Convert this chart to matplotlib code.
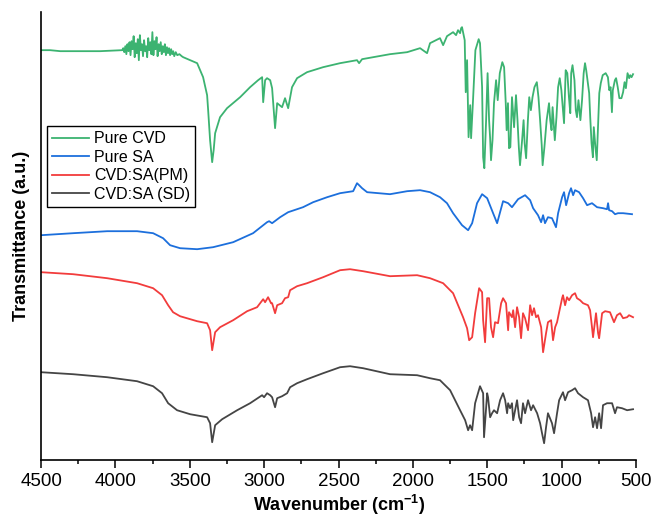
import matplotlib
matplotlib.use('Agg')
import matplotlib.pyplot as plt
from matplotlib.ticker import MultipleLocator

plt.rcParams['font.family'] = 'Liberation Sans'
plt.rcParams['mathtext.fontset'] = 'custom'
plt.rcParams['mathtext.rm'] = 'Liberation Sans'
plt.rcParams['mathtext.bf'] = 'Liberation Sans:bold'
plt.rcParams['mathtext.default'] = 'bf'

# ── Spectra (wavenumber in cm-1, stacked transmittance in a.u.) ─────
cvd_wn = [4500, 4440, 4372, 4238, 4103, 3969,
          3955, 3948, 3941, 3934, 3927, 3920, 3913, 3906, 3899, 3892, 3885, 3878,
          3871, 3864, 3857, 3850, 3843, 3836, 3829, 3822, 3815, 3808, 3801, 3794,
          3787, 3780, 3773, 3766, 3759, 3752, 3745, 3738, 3731, 3724, 3717, 3710,
          3703, 3696, 3689, 3682, 3675, 3668, 3661, 3654, 3647, 3640, 3633, 3626,
          3619, 3612, 3605, 3595, 3585, 3570, 3555, 3545,
          3498, 3451, 3411, 3384, 3377, 3364, 3350, 3340, 3330, 3297, 3250, 3162,
          3095, 3041, 3014, 3007, 2994, 2981, 2960, 2947, 2927, 2913, 2880, 2860,
          2839, 2813, 2779, 2712, 2604, 2490, 2376, 2362, 2342, 2268, 2154, 2039,
          1952, 1905, 1885, 1818, 1797, 1771, 1750, 1730, 1710, 1697, 1683, 1676,
          1670, 1652, 1645, 1636, 1626, 1615, 1609, 1597, 1580, 1558, 1549, 1535,
          1528, 1520, 1508, 1498, 1488, 1481, 1475, 1465, 1455, 1441, 1430, 1416,
          1399, 1387, 1376, 1370, 1361, 1354, 1345, 1334, 1320, 1307, 1297, 1288,
          1280, 1266, 1256, 1249, 1239, 1227, 1218, 1207, 1196, 1183, 1167, 1156,
          1145, 1134, 1128, 1116, 1101, 1085, 1077, 1068, 1061, 1046, 1035, 1024,
          1013, 1002, 991, 984, 973, 962, 951, 942, 936, 927, 914, 905, 897, 887,
          874, 863, 852, 843, 835, 826, 815, 808, 799, 790, 784, 773, 764, 755,
          747, 737, 724, 704, 689, 680, 671, 662, 656, 642, 634, 623, 612, 598,
          587, 577, 568, 557, 546, 539, 530, 520]
cvd_t = [410, 410, 409, 409, 409, 410,
         410, 412, 408, 414, 406, 416, 409, 418, 405, 419, 411, 424,
         403, 417, 407, 421, 400, 425, 410, 416, 404, 420, 409, 414,
         403, 422, 410, 418, 406, 428, 405, 419, 411, 423, 404, 416,
         409, 418, 406, 414, 408, 416, 405, 413, 407, 412, 405, 411,
         406, 409, 404, 408, 405, 406, 404, 403,
         400, 397, 383, 365, 350, 320, 298, 310, 327, 343, 352, 363,
         373, 380, 383, 358, 380, 382, 380, 372, 332, 357, 353, 362,
         352, 373, 382, 388, 393, 397, 400, 397, 401, 403, 406, 408,
         412, 407, 417, 422, 415, 424, 426, 428, 425, 430, 427, 432,
         433, 420, 368, 400, 323, 355, 322, 357, 410, 421, 417, 373,
         303, 292, 340, 387, 340, 322, 300, 320, 357, 380, 360, 387,
         398, 393, 357, 330, 357, 312, 313, 363, 333, 365, 340, 313,
         295, 320, 340, 317, 302, 340, 363, 350, 363, 373, 378, 363,
         340, 315, 295, 313, 340, 357, 340, 330, 353, 320, 343, 373,
         382, 370, 350, 337, 390, 387, 363, 347, 387, 395, 380, 350, 343, 360,
         340, 360, 387, 397, 390, 380, 367, 343, 317, 303, 333, 313, 300, 337,
         367, 377, 385, 387, 383, 370, 373, 348, 370, 380, 382, 373, 362, 362,
         368, 378, 372, 387, 382, 385, 383, 386]

sa_wn = [4500, 4285, 4056, 3855, 3747, 3680, 3633, 3566, 3451, 3344, 3209, 3075,
         2981, 2967, 2947, 2893, 2839, 2739, 2671, 2577, 2490, 2402, 2376, 2362,
         2342, 2308, 2154, 2039, 1952, 1885, 1818, 1771, 1730, 1670, 1629, 1602,
         1569, 1535, 1501, 1461, 1434, 1414, 1394, 1360, 1334, 1293, 1246, 1212,
         1192, 1159, 1138, 1125, 1112, 1092, 1065, 1038, 1024, 997, 984, 970, 950,
         937, 923, 910, 883, 856, 829, 796, 762, 722, 695, 688, 681, 661, 641,
         621, 587, 527]
sa_t = [225, 227, 229, 229, 227, 222, 215, 212, 211, 213, 218, 227,
        238, 239, 237, 243, 248, 253, 258, 263, 267, 269, 277, 275,
        272, 268, 266, 269, 270, 268, 263, 257, 247, 235, 230, 237,
        257, 266, 262, 247, 237, 248, 259, 257, 253, 261, 265, 260,
        252, 245, 238, 245, 237, 243, 242, 233, 247, 263, 268, 255, 267,
        272, 265, 270, 268, 262, 255, 257, 253, 252, 251, 257, 250, 249, 246,
        247, 247, 246]

pm_wn = [4500, 4285, 4056, 3855, 3747, 3687, 3646, 3613, 3566, 3451, 3384, 3364,
         3350, 3330, 3297, 3209, 3115, 3048, 3007, 2994, 2974, 2954, 2947, 2927,
         2913, 2880, 2860, 2839, 2826, 2779, 2712, 2604, 2490, 2423, 2335, 2154,
         1972, 1885, 1797, 1730, 1663, 1636, 1622, 1602, 1582, 1555, 1535, 1528,
         1515, 1501, 1488, 1475, 1461, 1448, 1428, 1407, 1394, 1374, 1360, 1354,
         1334, 1326, 1313, 1300, 1286, 1273, 1260, 1246, 1226, 1212, 1199, 1186,
         1172, 1159, 1138, 1125, 1105, 1092, 1071, 1058, 1044, 1031, 1017, 997,
         991, 977, 964, 950, 930, 910, 897, 876, 856, 823, 809, 796, 789, 769,
         755, 748, 728, 708, 675, 648, 628, 607, 587, 560, 547, 520]
pm_t = [188, 186, 182, 177, 172, 165, 155, 148, 144, 139, 137, 130,
        110, 128, 133, 140, 149, 153, 161, 158, 163, 157, 157, 147,
        155, 157, 162, 163, 170, 174, 177, 183, 190, 191, 189, 184,
        185, 182, 177, 167, 143, 132, 120, 123, 147, 172, 168, 140,
        118, 162, 162, 133, 123, 138, 137, 157, 162, 157, 130, 148,
        143, 150, 133, 153, 143, 122, 147, 142, 130, 155, 145, 152,
        143, 145, 133, 108, 127, 138, 140, 120, 133, 138, 148, 162,
        165, 155, 163, 160, 165, 167, 162, 160, 157, 155, 150, 133, 123, 147,
        127, 122, 147, 149, 148, 138, 145, 147, 142, 143, 145, 143]

sd_wn = [4500, 4285, 4056, 3855, 3747, 3687, 3646, 3586, 3498, 3384, 3364, 3350,
         3330, 3283, 3182, 3095, 3014, 3001, 2981, 2960, 2947, 2927, 2913, 2880,
         2846, 2826, 2779, 2712, 2604, 2490, 2423, 2335, 2154, 1972, 1885, 1818,
         1750, 1683, 1649, 1629, 1616, 1602, 1582, 1549, 1528, 1522, 1501, 1495,
         1481, 1468, 1455, 1434, 1414, 1394, 1380, 1367, 1360, 1347, 1334, 1326,
         1300, 1286, 1273, 1260, 1246, 1226, 1206, 1192, 1165, 1145, 1132, 1118,
         1105, 1092, 1065, 1051, 1031, 1017, 991, 977, 957, 930, 910, 890, 856,
         823, 802, 789, 775, 762, 748, 735, 722, 695, 661, 641, 628, 594, 560, 520]
sd_t = [88, 86, 83, 79, 74, 67, 57, 50, 46, 43, 37, 18,
        35, 41, 50, 57, 65, 63, 67, 65, 63, 53, 62, 64,
        67, 73, 77, 81, 87, 93, 94, 92, 86, 85, 82, 80,
        70, 50, 40, 30, 35, 30, 57, 74, 67, 23, 67, 63,
        43, 47, 50, 47, 60, 67, 60, 47, 57, 52, 57, 40,
        60, 43, 37, 57, 47, 60, 50, 55, 47, 37, 27, 17,
        33, 47, 37, 27, 47, 60, 68, 60, 68, 70, 72, 67, 63,
        60, 47, 33, 43, 32, 47, 32, 55, 57, 57, 47, 53, 52, 50, 51]

LABELS = ['Pure CVD', 'Pure SA', 'CVD:SA(PM)', 'CVD:SA (SD)']
COLORS = ['#3cb371', '#1c6fdc', '#f23c3c', '#454545']

fig = plt.figure(figsize=(6.53, 5.29), dpi=100)
ax = fig.add_axes([0.063, 0.130, 0.911, 0.847])

for wn, t, lab, c in zip([cvd_wn, sa_wn, pm_wn, sd_wn],
                         [cvd_t, sa_t, pm_t, sd_t], LABELS, COLORS):
    ax.plot(wn, t, color=c, lw=1.3, label=lab)

ax.set_xlim(4500, 500)
ax.set_ylim(0, 448)
ax.xaxis.set_major_locator(MultipleLocator(500))
ax.xaxis.set_minor_locator(MultipleLocator(250))
ax.tick_params(axis='x', which='major', direction='out', length=5.5, width=1.1,
               labelsize=13.5, pad=4)
ax.tick_params(axis='x', which='minor', direction='out', length=3, width=1.1)
ax.set_yticks([])
for side in ('top', 'right'):
    ax.spines[side].set_visible(False)
for side in ('left', 'bottom'):
    ax.spines[side].set_linewidth(1.2)

ax.set_xlabel('Wavenumber (cm$^{-1}$)', fontsize=13, fontweight='bold', labelpad=2)
ax.set_ylabel('Transmittance (a.u.)', fontsize=13, fontweight='bold', labelpad=8)

leg = ax.legend(loc='upper left', bbox_to_anchor=(0.01, 0.745), borderaxespad=0,
                fontsize=11.5, handlelength=2.3, handletextpad=0.35,
                labelspacing=0.22, borderpad=0.3, fancybox=False, framealpha=1)
leg.get_frame().set_edgecolor('black')
leg.get_frame().set_linewidth(1.0)

fig.savefig('out.png', dpi=100)
